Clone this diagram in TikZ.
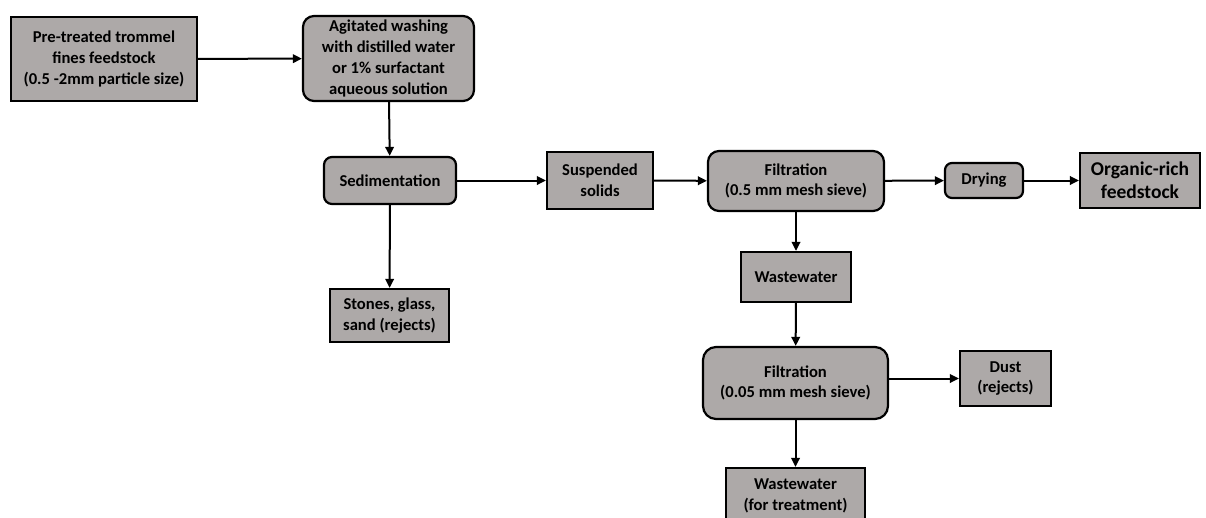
\documentclass[tikz,border=0pt]{standalone}
\usepackage{fontspec}
\setmainfont{Carlito}
\usetikzlibrary{arrows.meta}
\definecolor{boxgray}{RGB}{173,169,168}
\tikzset{
  base/.style={draw=black, line width=2.2pt, fill=boxgray, align=center, inner sep=0pt,
    font=\bfseries\fontsize{16.6}{20.8}\selectfont},
  sq/.style={base, rectangle},
  rnd/.style={base, rectangle, rounded corners=11pt},
  flow/.style={line width=2pt, -{Triangle[length=9pt,width=8.5pt]}}
}
\begin{document}
\begin{tikzpicture}[x=1pt,y=-1pt]
\useasboundingbox[fill=white] (0,0) rectangle (1206,517);
\clip (0,0) rectangle (1206,517);
\node[sq,  minimum width=186pt, minimum height=84pt] (feed) at (104,59) {Pre-treated trommel\\fines feedstock\\(0.5 -2mm particle size)};
\node[rnd, minimum width=171pt, minimum height=85pt] (wash) at (388.5,58.5) {Agitated washing\\with distilled water\\or 1\% surfactant\\aqueous solution};
\node[rnd, minimum width=132pt, minimum height=47pt, rounded corners=8pt] (sed) at (390,180.5) {Sedimentation};
\node[sq,  minimum width=119pt, minimum height=53pt] (stones) at (389.5,315.5) {Stones, glass,\\sand (rejects)};
\node[sq,  minimum width=106pt, minimum height=57pt] (susp) at (600,180.5) {Suspended\\solids};
\node[rnd, minimum width=176pt, minimum height=60pt] (filt1) at (796,181) {Filtration\\(0.5 mm mesh sieve)};
\node[rnd, minimum width=78pt, minimum height=35pt, rounded corners=7pt] (dry) at (984,180.5) {Drying};
\node[sq,  minimum width=120pt, minimum height=55pt, font=\bfseries\fontsize{19.5}{23}\selectfont] (org) at (1140,180.5) {Organic-rich\\feedstock};
\node[sq,  minimum width=110pt, minimum height=50pt] (ww1) at (796,277) {Wastewater};
\node[rnd, minimum width=185pt, minimum height=72pt, rounded corners=13pt] (filt2) at (795.5,383) {Filtration\\(0.05 mm mesh sieve)};
\node[sq,  minimum width=91pt, minimum height=55pt] (dust) at (1005.5,378.5) {Dust\\(rejects)};
\node[sq,  minimum width=139pt, minimum height=56pt] (ww2) at (795.5,496) {Wastewater\\(for treatment)};
\draw[flow] (feed) -- (wash);
\draw[flow] (wash) -- (sed);
\draw[flow] (sed) -- (susp);
\draw[flow] (sed) -- (stones);
\draw[flow] (susp) -- (filt1);
\draw[flow] (filt1) -- (dry);
\draw[flow] (dry) -- (org);
\draw[flow] (filt1) -- (ww1);
\draw[flow] (ww1) -- (filt2);
\draw[flow] (filt2.east |- dust.west) -- (dust.west);
\draw[flow] (filt2) -- (ww2);
\end{tikzpicture}
\end{document}
